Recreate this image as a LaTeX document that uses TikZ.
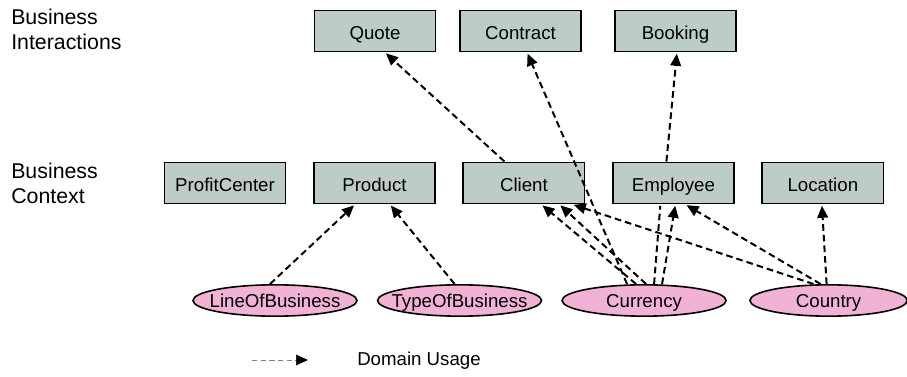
\documentclass[tikz,border=0pt]{standalone}
\usepackage{fontspec}
\setmainfont{Liberation Sans}
\usetikzlibrary{positioning,arrows.meta,shapes.geometric}
\definecolor{ctxgreen}{RGB}{189,204,196}
\definecolor{dompink}{RGB}{242,178,214}

\begin{document}
\begin{tikzpicture}[x=0.75pt,y=-0.75pt,on grid,
    entity/.style={draw,line width=1.2pt,fill=ctxgreen,minimum width=91pt,minimum height=31pt,
        text height=12.5pt,text depth=0pt,font=\fontsize{14}{16}\selectfont},
    domval/.style={ellipse,draw,line width=1.2pt,fill=dompink,minimum width=123pt,minimum height=23.5pt,
        inner xsep=-15pt,inner ysep=0pt,text height=10.5pt,text depth=0pt,font=\fontsize{14}{16}\selectfont},
    layer/.style={align=left,anchor=north west,inner sep=0pt,font=\fontsize{16}{18.75}\selectfont},
    usage/.style={line width=1.5pt,dash pattern=on 5pt off 3pt,shorten >=1pt,
        -{Triangle[length=9pt,width=8pt]}}]
    \useasboundingbox (0,0) rectangle (907,377);

    % layer labels
    \node[layer] (lint) at (11,9) {Business\\Interactions};
    \node[layer] (lctx) at (11,163) {Business\\Context};

    % business interactions
    \node[entity] (quo) at (375,31) {Quote};
    \node[entity] (con) at (520.5,31) {Contract};
    \node[entity] (boo) at (675.5,31) {Booking};

    % business context
    \node[entity] (pcen) at (225,183) {ProfitCenter};
    \node[entity] (prod) [right=112.1pt of pcen] {Product};
    \node[entity] (cli) [right=112.1pt of prod] {Client};
    \node[entity] (emp) [right=112.1pt of cli] {Employee};
    \node[entity] (loc) [right=112.1pt of emp] {Location};

    % domains
    \node[domval] (lob) at (275,300.5) {LineOfBusiness};
    \node[domval] (tob) [right=138.4pt of lob] {TypeOfBusiness};
    \node[domval] (cur) [right=138.4pt of tob] {Currency};
    \node[domval, minimum width=118pt] (cou) [right=138.4pt of cur] {Country};

    \draw[usage] ([xshift=-14.6pt]cli.north) -- ([xshift=7.5pt]quo.south);
    \draw[usage] ([xshift=-5.25pt]emp.north) -- ([xshift=1.1pt]boo.south);
    \draw[usage] ([xshift=-12.75pt]cur.north) -- ([xshift=4.9pt]con.south);
    \draw[usage] ([xshift=-6pt]cur.north) -- ([xshift=13.1pt]cli.south);
    \draw[usage] ([xshift=1.5pt]cur.north) -- ([xshift=26.6pt]cli.south);
    \draw[usage] ([xshift=-11.25pt]cou.north) -- ([xshift=36.4pt]cli.south);
    \draw[usage, -] ([xshift=7.5pt]cur.north) -- ([xshift=-9.75pt]emp.south);
    \draw[usage] ([xshift=13.5pt]cur.north) -- ([xshift=1.5pt]emp.south);
    \draw[usage] ([xshift=-6pt]cou.north) -- ([xshift=9pt]emp.south);
    \draw[usage] ([xshift=-1.5pt]cou.north) -- ([xshift=-0.75pt]loc.south);
    \draw[usage] ([xshift=-3.75pt]lob.north) -- ([xshift=-14.6pt]prod.south);
    \draw[usage] ([xshift=-3.75pt]tob.north) -- ([xshift=11.6pt]prod.south);

    % legend
    \coordinate (lgs) at (252,360);
    \coordinate (lge) at (308,360);
    \node[anchor=west,inner sep=0pt,font=\fontsize{14}{16}\selectfont] (lgt) at (357,361) {Domain Usage};
    \draw[gray,line width=0.5pt,dash pattern=on 4pt off 2.5pt,-{Triangle[black,length=9pt,width=8pt]}] (lgs) -- (lge);
\end{tikzpicture}
\end{document}
